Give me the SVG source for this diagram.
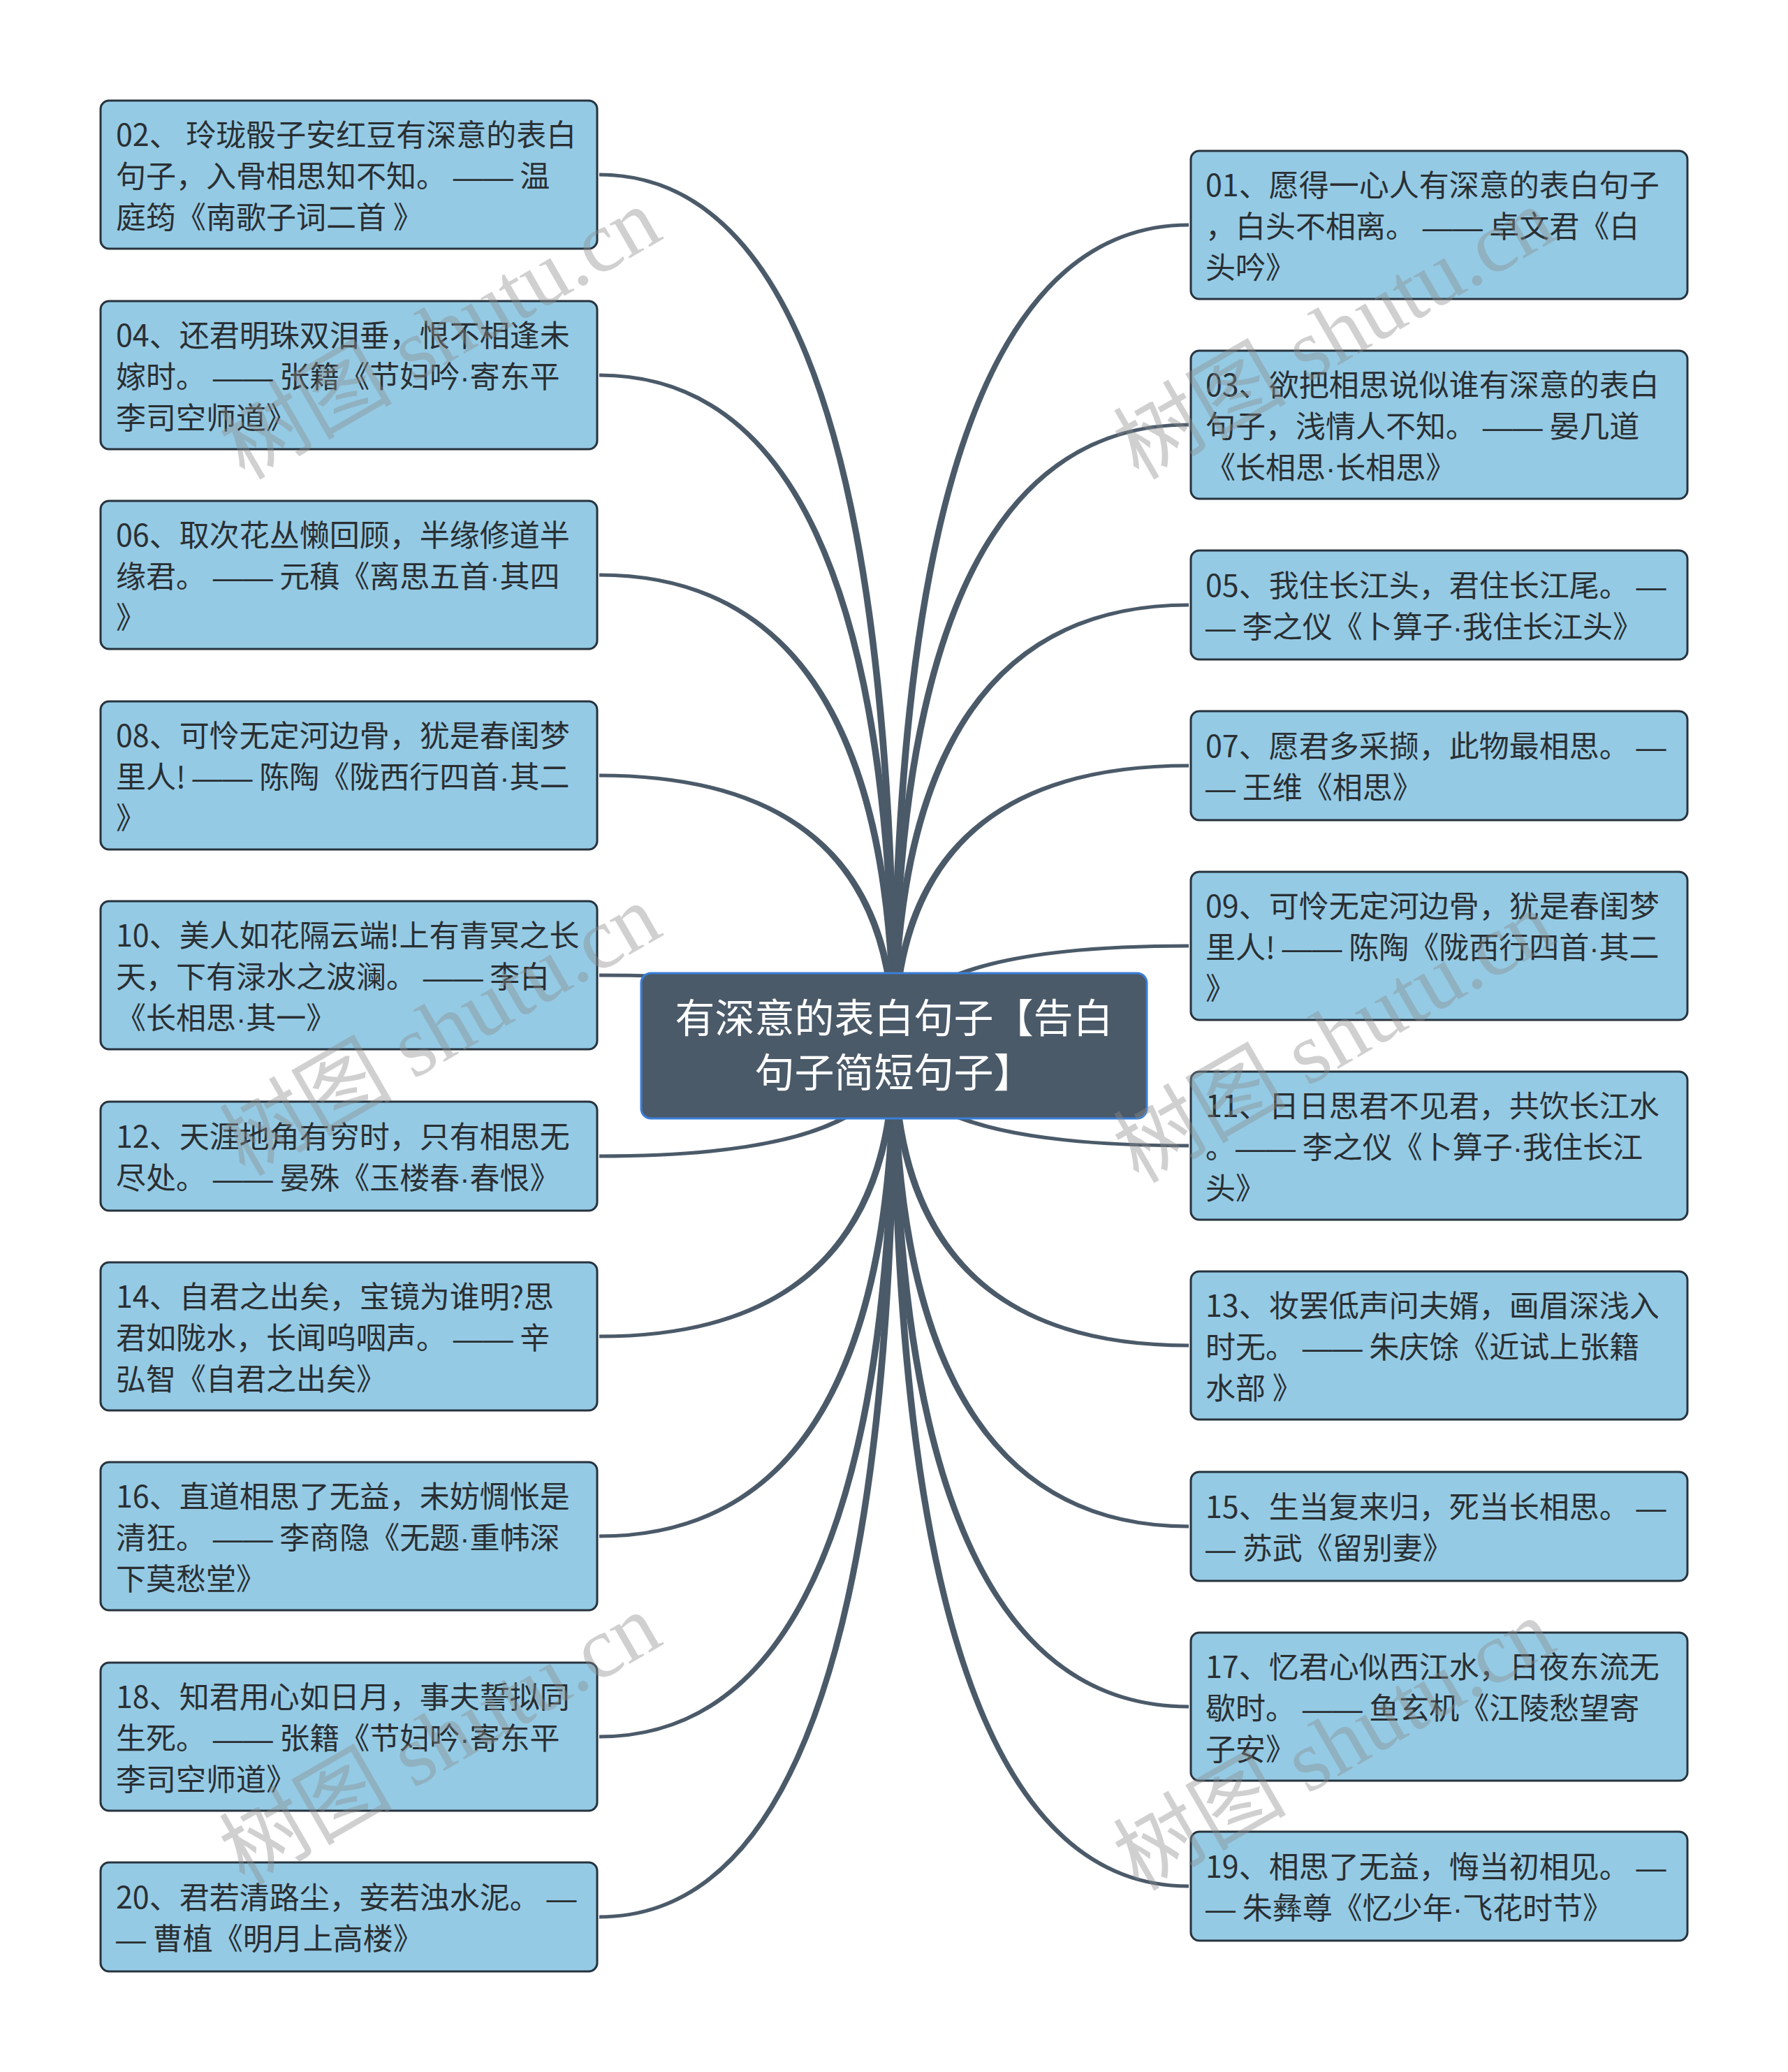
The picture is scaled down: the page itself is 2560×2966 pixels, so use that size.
<svg xmlns="http://www.w3.org/2000/svg" width="2560" height="2966" viewBox="0 0 2560 2966">
<style>
.bg{fill:#ffffff}
.conn{fill:#4b5a69;stroke:none}
.box{fill:#94cae4;stroke:#27333e;stroke-width:3}
.root{fill:#4b5a69;stroke:#3a7fd8;stroke-width:3}
.t{font-family:"Noto Sans CJK SC","Noto Sans",sans-serif;font-size:43px;fill:#2a2f33}
.d{font-family:"Liberation Sans",sans-serif}
.rt{font-family:"Noto Sans CJK SC","Noto Sans",sans-serif;font-size:57px;fill:#ffffff;text-anchor:middle}
.wm{font-family:"Liberation Serif","Noto Sans CJK SC",serif;font-size:124px;fill:#8c8c8c;opacity:0.4}
</style>
<rect class="bg" x="0" y="0" width="2560" height="2966"/>
<g id="connectors">
<path class="conn" d="M1285 1497Q1285 247.5 858 247.5L858 252.5Q1275 252.5 1275 1497Z"/>
<path class="conn" d="M1285 1497Q1285 534.5 858 534.5L858 539.5Q1275 539.5 1275 1497Z"/>
<path class="conn" d="M1285 1497Q1285 820.5 858 820.5L858 825.5Q1275 825.5 1275 1497Z"/>
<path class="conn" d="M1285 1497Q1285 1107.5 858 1107.5L858 1112.5Q1275 1112.5 1275 1497Z"/>
<path class="conn" d="M1285 1497Q1285 1393.5 858 1393.5L858 1398.5Q1275 1398.5 1275 1497Z"/>
<path class="conn" d="M1285 1497Q1285 1657.5 858 1657.5L858 1652.5Q1275 1652.5 1275 1497Z"/>
<path class="conn" d="M1285 1497Q1285 1915.5 858 1915.5L858 1910.5Q1275 1910.5 1275 1497Z"/>
<path class="conn" d="M1285 1497Q1285 2201.5 858 2201.5L858 2196.5Q1275 2196.5 1275 1497Z"/>
<path class="conn" d="M1285 1497Q1285 2488.5 858 2488.5L858 2483.5Q1275 2483.5 1275 1497Z"/>
<path class="conn" d="M1285 1497Q1285 2746.5 858 2746.5L858 2741.5Q1275 2741.5 1275 1497Z"/>
<path class="conn" d="M1275 1497Q1275 319.5 1702 319.5L1702 324.5Q1285 324.5 1285 1497Z"/>
<path class="conn" d="M1275 1497Q1275 605.5 1702 605.5L1702 610.5Q1285 610.5 1285 1497Z"/>
<path class="conn" d="M1275 1497Q1275 863.5 1702 863.5L1702 868.5Q1285 868.5 1285 1497Z"/>
<path class="conn" d="M1275 1497Q1275 1093.5 1702 1093.5L1702 1098.5Q1285 1098.5 1285 1497Z"/>
<path class="conn" d="M1275 1497Q1275 1351.5 1702 1351.5L1702 1356.5Q1285 1356.5 1285 1497Z"/>
<path class="conn" d="M1275 1497Q1275 1642.5 1702 1642.5L1702 1637.5Q1285 1637.5 1285 1497Z"/>
<path class="conn" d="M1275 1497Q1275 1928.5 1702 1928.5L1702 1923.5Q1285 1923.5 1285 1497Z"/>
<path class="conn" d="M1275 1497Q1275 2187.5 1702 2187.5L1702 2182.5Q1285 2182.5 1285 1497Z"/>
<path class="conn" d="M1275 1497Q1275 2445.5 1702 2445.5L1702 2440.5Q1285 2440.5 1285 1497Z"/>
<path class="conn" d="M1275 1497Q1275 2702.5 1702 2702.5L1702 2697.5Q1285 2697.5 1285 1497Z"/>
</g>
<g id="root">
<rect class="root" x="918" y="1393" width="724" height="208" rx="14"/>
<text class="rt" x="1280" y="1478">有深意的表白句子【告白</text>
<text class="rt" x="1280" y="1556">句子简短句子】</text>
</g>
<g id="n02"><rect class="box" x="144" y="144" width="711" height="212" rx="12"/>
<text class="t" x="166" y="209">02、 玲珑骰子安红豆有深意的表白</text><text class="t" x="166" y="268">句子，入骨相思知不知。 <tspan class="d">——</tspan> 温</text><text class="t" x="166" y="327">庭筠《南歌子词二首 》</text></g>
<g id="n04"><rect class="box" x="144" y="431" width="711" height="212" rx="12"/>
<text class="t" x="166" y="496">04、还君明珠双泪垂，恨不相逢未</text><text class="t" x="166" y="555">嫁时。 <tspan class="d">——</tspan> 张籍《节妇吟<tspan class="d">·</tspan>寄东平</text><text class="t" x="166" y="614">李司空师道》</text></g>
<g id="n06"><rect class="box" x="144" y="717" width="711" height="212" rx="12"/>
<text class="t" x="166" y="782">06、取次花丛懒回顾，半缘修道半</text><text class="t" x="166" y="841">缘君。 <tspan class="d">——</tspan> 元稹《离思五首<tspan class="d">·</tspan>其四</text><text class="t" x="166" y="900">》</text></g>
<g id="n08"><rect class="box" x="144" y="1004" width="711" height="212" rx="12"/>
<text class="t" x="166" y="1069">08、可怜无定河边骨，犹是春闺梦</text><text class="t" x="166" y="1128">里人! <tspan class="d">——</tspan> 陈陶《陇西行四首<tspan class="d">·</tspan>其二</text><text class="t" x="166" y="1187">》</text></g>
<g id="n10"><rect class="box" x="144" y="1290" width="711" height="212" rx="12"/>
<text class="t" x="166" y="1355">10、美人如花隔云端!上有青冥之长</text><text class="t" x="166" y="1414">天，下有渌水之波澜。 <tspan class="d">——</tspan> 李白</text><text class="t" x="166" y="1473">《长相思<tspan class="d">·</tspan>其一》</text></g>
<g id="n12"><rect class="box" x="144" y="1577" width="711" height="156" rx="12"/>
<text class="t" x="166" y="1643">12、天涯地角有穷时，只有相思无</text><text class="t" x="166" y="1702">尽处。 <tspan class="d">——</tspan> 晏殊《玉楼春<tspan class="d">·</tspan>春恨》</text></g>
<g id="n14"><rect class="box" x="144" y="1807" width="711" height="212" rx="12"/>
<text class="t" x="166" y="1872">14、自君之出矣，宝镜为谁明?思</text><text class="t" x="166" y="1931">君如陇水，长闻呜咽声。 <tspan class="d">——</tspan> 辛</text><text class="t" x="166" y="1990">弘智《自君之出矣》</text></g>
<g id="n16"><rect class="box" x="144" y="2093" width="711" height="212" rx="12"/>
<text class="t" x="166" y="2158">16、直道相思了无益，未妨惆怅是</text><text class="t" x="166" y="2217">清狂。 <tspan class="d">——</tspan> 李商隐《无题<tspan class="d">·</tspan>重帏深</text><text class="t" x="166" y="2276">下莫愁堂》</text></g>
<g id="n18"><rect class="box" x="144" y="2380" width="711" height="212" rx="12"/>
<text class="t" x="166" y="2445">18、知君用心如日月，事夫誓拟同</text><text class="t" x="166" y="2504">生死。 <tspan class="d">——</tspan> 张籍《节妇吟<tspan class="d">·</tspan>寄东平</text><text class="t" x="166" y="2563">李司空师道》</text></g>
<g id="n20"><rect class="box" x="144" y="2666" width="711" height="156" rx="12"/>
<text class="t" x="166" y="2732">20、君若清路尘，妾若浊水泥。 <tspan class="d">—</tspan></text><text class="t" x="166" y="2791"><tspan class="d">—</tspan> 曹植《明月上高楼》</text></g>
<g id="n01"><rect class="box" x="1705" y="216" width="711" height="212" rx="12"/>
<text class="t" x="1726" y="281">01、愿得一心人有深意的表白句子</text><text class="t" x="1726" y="340">，白头不相离。 <tspan class="d">——</tspan> 卓文君《白</text><text class="t" x="1726" y="399">头吟》</text></g>
<g id="n03"><rect class="box" x="1705" y="502" width="711" height="212" rx="12"/>
<text class="t" x="1726" y="567">03、欲把相思说似谁有深意的表白</text><text class="t" x="1726" y="626">句子，浅情人不知。 <tspan class="d">——</tspan> 晏几道</text><text class="t" x="1726" y="685">《长相思<tspan class="d">·</tspan>长相思》</text></g>
<g id="n05"><rect class="box" x="1705" y="788" width="711" height="156" rx="12"/>
<text class="t" x="1726" y="854">05、我住长江头，君住长江尾。 <tspan class="d">—</tspan></text><text class="t" x="1726" y="913"><tspan class="d">—</tspan> 李之仪《卜算子<tspan class="d">·</tspan>我住长江头》</text></g>
<g id="n07"><rect class="box" x="1705" y="1018" width="711" height="156" rx="12"/>
<text class="t" x="1726" y="1084">07、愿君多采撷，此物最相思。 <tspan class="d">—</tspan></text><text class="t" x="1726" y="1143"><tspan class="d">—</tspan> 王维《相思》</text></g>
<g id="n09"><rect class="box" x="1705" y="1248" width="711" height="212" rx="12"/>
<text class="t" x="1726" y="1313">09、可怜无定河边骨，犹是春闺梦</text><text class="t" x="1726" y="1372">里人! <tspan class="d">——</tspan> 陈陶《陇西行四首<tspan class="d">·</tspan>其二</text><text class="t" x="1726" y="1431">》</text></g>
<g id="n11"><rect class="box" x="1705" y="1534" width="711" height="212" rx="12"/>
<text class="t" x="1726" y="1599">11、日日思君不见君，共饮长江水</text><text class="t" x="1726" y="1658">。<tspan class="d">——</tspan> 李之仪《卜算子<tspan class="d">·</tspan>我住长江</text><text class="t" x="1726" y="1717">头》</text></g>
<g id="n13"><rect class="box" x="1705" y="1820" width="711" height="212" rx="12"/>
<text class="t" x="1726" y="1885">13、妆罢低声问夫婿，画眉深浅入</text><text class="t" x="1726" y="1944">时无。 <tspan class="d">——</tspan> 朱庆馀《近试上张籍</text><text class="t" x="1726" y="2003">水部 》</text></g>
<g id="n15"><rect class="box" x="1705" y="2107" width="711" height="156" rx="12"/>
<text class="t" x="1726" y="2173">15、生当复来归，死当长相思。 <tspan class="d">—</tspan></text><text class="t" x="1726" y="2232"><tspan class="d">—</tspan> 苏武《留别妻》</text></g>
<g id="n17"><rect class="box" x="1705" y="2337" width="711" height="212" rx="12"/>
<text class="t" x="1726" y="2402">17、忆君心似西江水，日夜东流无</text><text class="t" x="1726" y="2461">歇时。 <tspan class="d">——</tspan> 鱼玄机《江陵愁望寄</text><text class="t" x="1726" y="2520">子安》</text></g>
<g id="n19"><rect class="box" x="1705" y="2622" width="711" height="156" rx="12"/>
<text class="t" x="1726" y="2688">19、相思了无益，悔当初相见。 <tspan class="d">—</tspan></text><text class="t" x="1726" y="2747"><tspan class="d">—</tspan> 朱彝尊《忆少年<tspan class="d">·</tspan>飞花时节》</text></g>
<g id="watermarks">
<text class="wm" transform="translate(350 688) rotate(-30)">树图 shutu.cn</text>
<text class="wm" transform="translate(1630 688) rotate(-30)">树图 shutu.cn</text>
<text class="wm" transform="translate(350 1685) rotate(-30)">树图 shutu.cn</text>
<text class="wm" transform="translate(1630 1695) rotate(-30)">树图 shutu.cn</text>
<text class="wm" transform="translate(350 2700) rotate(-30)">树图 shutu.cn</text>
<text class="wm" transform="translate(1630 2708) rotate(-30)">树图 shutu.cn</text>
</g>
</svg>
